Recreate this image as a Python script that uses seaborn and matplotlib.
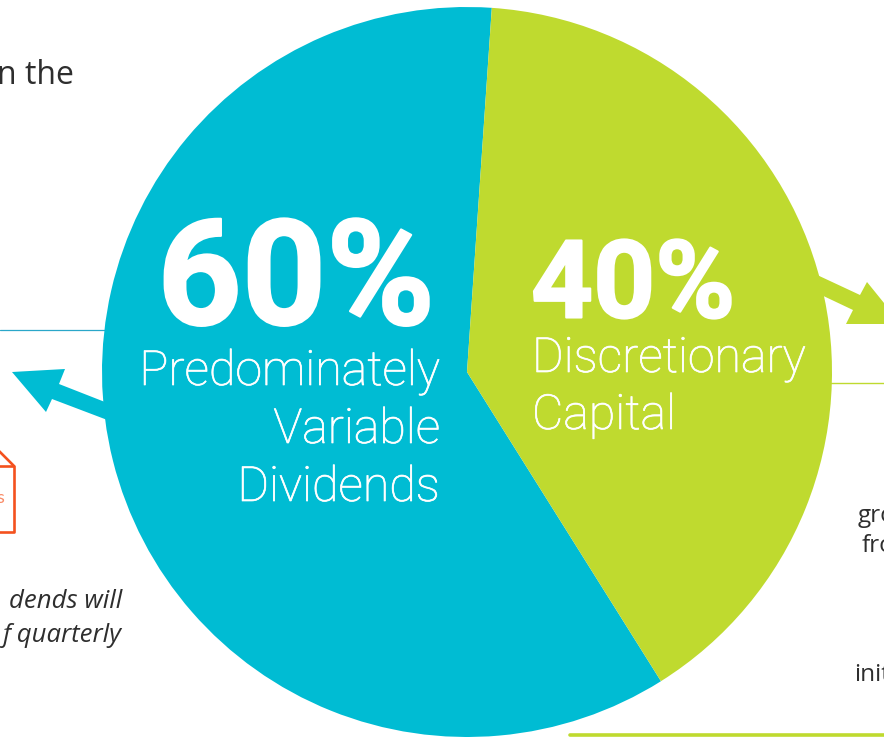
import matplotlib
matplotlib.use("Agg")
import matplotlib.pyplot as plt
import matplotlib.patheffects as pe
from matplotlib.patches import Polygon
import seaborn as sns

shares = [60, 40]
share_labels = ["60%", "40%"]
blue_label = ["Predominately", "Variable", "Dividends"]
green_label = ["Discretionary", "Capital"]

sns.set_theme(style="white")
colors = sns.color_palette(["#00BCD3", "#BFDA2F"])
BLUE, GREEN = colors
ORANGE = "#F4511E"
INK = "#2e2e2e"
H = 737


def Y(py):
    # picture is measured from the top
    return H - py


fig = plt.figure(figsize=(8.84, 7.37), dpi=100)
ax = fig.add_axes([0, 0, 1, 1])
ax.set_xlim(0, 884)
ax.set_ylim(0, H)
ax.axis("off")

ax.plot([0, 110], [Y(330), Y(330)], color="#2aa7c9", lw=0.9, zorder=1)
ax.plot([825, 884], [Y(383), Y(383)], color=GREEN, lw=1.0, zorder=1)
ax.plot([570, 884], [Y(735), Y(735)], color=GREEN, lw=2.6, zorder=1)

# arrows coming out of the pie
left_arrow = [(12, 372), (65, 369), (59, 384), (110, 404), (110, 421), (52, 399), (46, 412)]
right_arrow = [(815, 274), (860, 295), (867, 282), (884, 303), (884, 324), (846, 324), (853, 310), (815, 292)]
ax.add_patch(Polygon([(x, Y(y)) for x, y in left_arrow], color=BLUE, lw=0, zorder=1))
ax.add_patch(Polygon([(x, Y(y)) for x, y in right_arrow], color=GREEN, lw=0, zorder=1))

wedges, _ = ax.pie(shares, colors=colors, startangle=86.1, center=(467, Y(372)), radius=365,
                   frame=True, wedgeprops={"linewidth": 0})
ax.set_xlim(0, 884)
ax.set_ylim(0, H)
ax.set_aspect("auto")
ax.axis("off")
for w in wedges:
    w.set_zorder(2)

# orange box cut by the left edge
ax.plot([-5, 14, 14, -5], [Y(466), Y(466), Y(532), Y(532)], color=ORANGE, lw=1.9, zorder=1)
ax.plot([-5, 14], [Y(447), Y(466)], color=ORANGE, lw=1.9, zorder=1)
ax.text(4, Y(503), "s", color="#F98A66", fontsize=13, family="Lato", ha="right", va="baseline")

# big numbers need a bit more weight than Roboto Bold gives
heavy = [pe.withStroke(linewidth=1.5, foreground="white")]
ax.text(435, Y(324.5), share_labels[0], color="white", fontsize=106, family="Roboto", weight="bold",
        ha="right", va="baseline", zorder=3, path_effects=heavy)
ax.text(531, Y(317.5), share_labels[1], color="white", fontsize=78, family="Roboto", weight="bold",
        ha="left", va="baseline", zorder=3, path_effects=heavy)

thin = [pe.withStroke(linewidth=0.5, foreground="white")]
for s, py in zip(blue_label, [385, 443, 501]):
    ax.text(440, Y(py), s, color="white", fontsize=34.8, family="Roboto", weight="light",
            ha="right", va="baseline", zorder=3, path_effects=thin)
for s, py in zip(green_label, [372, 429]):
    ax.text(532, Y(py), s, color="white", fontsize=34.8, family="Roboto", weight="light",
            ha="left", va="baseline", zorder=3, path_effects=thin)

# fragments of the surrounding copy
ax.text(74, Y(84), "n the", color=INK, fontsize=23, family="Open Sans", ha="right", va="baseline")
ax.text(122, Y(608), "dends will", color=INK, fontsize=18.5, family="Open Sans", style="italic", ha="right", va="baseline")
ax.text(122, Y(642), "f quarterly", color=INK, fontsize=18.5, family="Open Sans", style="italic", ha="right", va="baseline")
ax.text(858, Y(522), "gro", color=INK, fontsize=17.5, family="Open Sans", ha="left", va="baseline")
ax.text(862, Y(552), "fro", color=INK, fontsize=17.5, family="Open Sans", ha="left", va="baseline")
ax.text(854, Y(681), "init", color=INK, fontsize=17.5, family="Open Sans", ha="left", va="baseline")

fig.savefig("out.png", dpi=100, facecolor="white")
